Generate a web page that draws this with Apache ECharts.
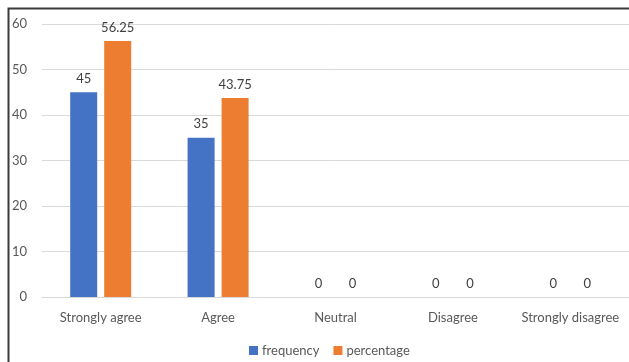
<!DOCTYPE html>
<html>
<head>
<meta charset="utf-8">
<style>
  html, body { margin: 0; padding: 0; background: #ffffff; }
  #chart { width: 629px; height: 362px; }
</style>
<script src="https://cdn.jsdelivr.net/npm/echarts@6/dist/echarts.min.js"></script>
</head>
<body>
<div id="chart"></div>
<script>
// Survey responses per category
const categories = ['Strongly agree', 'Agree', 'Neutral', 'Disagree', 'Strongly disagree'];
const frequency = [45, 35, 0, 0, 0];
const percentage = [56.25, 43.75, 0, 0, 0];
const yTicks = { min: 0, max: 60, interval: 10 };

const FONT = 'Lato, "Open Sans", sans-serif';
const chart = echarts.init(document.getElementById('chart'), null, { renderer: 'canvas' });

const labelStyle = {
  show: true,
  position: 'top',
  distance: 7,
  color: '#404040',
  fontSize: 13,
  fontFamily: FONT
};

chart.setOption({
  animation: false,
  backgroundColor: '#ffffff',
  textStyle: { fontFamily: FONT },
  grid: { left: 42, right: 0, top: 24, bottom: 65, containLabel: false },
  legend: {
    data: ['frequency', 'percentage'],
    left: 249,
    top: 344,
    padding: 0,
    itemWidth: 9,
    itemHeight: 9,
    itemGap: 14,
    icon: 'rect',
    textStyle: { color: '#595959', fontSize: 13, fontFamily: FONT, padding: [0, 0, 0, -1] }
  },
  xAxis: {
    type: 'category',
    data: categories,
    axisLine: { lineStyle: { color: '#d9d9d9', width: 1 } },
    axisTick: { show: false },
    axisLabel: { color: '#595959', fontSize: 13, fontFamily: FONT, margin: 14, interval: 0 }
  },
  yAxis: {
    type: 'value',
    min: yTicks.min,
    max: yTicks.max,
    interval: yTicks.interval,
    axisLine: { show: false },
    axisTick: { show: false },
    axisLabel: { color: '#595959', fontSize: 13, fontFamily: FONT, margin: 15 },
    splitLine: { lineStyle: { color: '#d9d9d9', width: 1 } }
  },
  series: [
    {
      name: 'frequency',
      type: 'bar',
      data: frequency,
      barWidth: 27,
      barGap: '26%',
      itemStyle: { color: '#4472c4' },
      label: labelStyle
    },
    {
      name: 'percentage',
      type: 'bar',
      data: percentage,
      barWidth: 27,
      itemStyle: { color: '#ed7d31' },
      label: labelStyle
    }
  ],
  graphic: [
    {
      type: 'polyline',
      shape: { points: [[8.5, 362], [8.5, 8.5], [629, 8.5]] },
      style: { stroke: '#3a3a3a', lineWidth: 2, fill: null },
      silent: true
    }
  ]
});
</script>
</body>
</html>
